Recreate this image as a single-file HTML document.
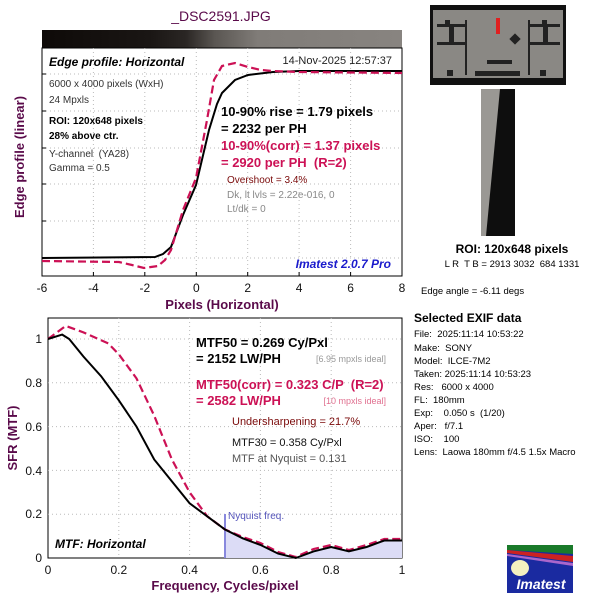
<!DOCTYPE html>
<html><head><meta charset="utf-8"><style>
body{margin:0;background:#fff;width:600px;height:600px;overflow:hidden}
svg{display:block;font-family:"Liberation Sans",Arial,sans-serif}
text{white-space:pre}
</style></head><body>
<svg width="600" height="600" viewBox="0 0 600 600">
<defs>
<linearGradient id="g" x1="0" x2="1" y1="0" y2="0">
<stop offset="0" stop-color="#0e0a08"/><stop offset="0.3" stop-color="#1a1614"/><stop offset="0.4" stop-color="#2a2624"/><stop offset="0.48" stop-color="#5a5652"/><stop offset="0.6" stop-color="#807c78"/><stop offset="1" stop-color="#888480"/>
</linearGradient>
</defs>
<text x="221" y="21" font-size="14" fill="#5a0a4a" text-anchor="middle">_DSC2591.JPG</text>
<rect x="42" y="30" width="360" height="18" fill="url(#g)"/>
<rect x="42" y="48" width="360" height="228" fill="#fff" stroke="#000"/>
<g stroke="#bbb" stroke-dasharray="1,3" stroke-width="1">
<line x1="93.4" y1="48" x2="93.4" y2="276"/><line x1="144.8" y1="48" x2="144.8" y2="276"/><line x1="196.3" y1="48" x2="196.3" y2="276"/><line x1="247.7" y1="48" x2="247.7" y2="276"/><line x1="299.1" y1="48" x2="299.1" y2="276"/><line x1="350.6" y1="48" x2="350.6" y2="276"/>
<line x1="42" y1="74" x2="402" y2="74"/><line x1="42" y1="111" x2="402" y2="111"/><line x1="42" y1="148" x2="402" y2="148"/><line x1="42" y1="184" x2="402" y2="184"/><line x1="42" y1="221" x2="402" y2="221"/><line x1="42" y1="258" x2="402" y2="258"/>
</g>
<g stroke="#000"><line x1="42" y1="74" x2="46" y2="74"/><line x1="42" y1="111" x2="46" y2="111"/><line x1="42" y1="148" x2="46" y2="148"/><line x1="42" y1="184" x2="46" y2="184"/><line x1="42" y1="221" x2="46" y2="221"/><line x1="42" y1="258" x2="46" y2="258"/>
<line x1="93.4" y1="276" x2="93.4" y2="272"/><line x1="144.8" y1="276" x2="144.8" y2="272"/><line x1="196.3" y1="276" x2="196.3" y2="272"/><line x1="247.7" y1="276" x2="247.7" y2="272"/><line x1="299.1" y1="276" x2="299.1" y2="272"/><line x1="350.6" y1="276" x2="350.6" y2="272"/></g>
<polyline fill="none" stroke="#000" stroke-width="2" points="42,258 155,257 163,254 171,247 183,215 196,185 209,130 217,104 222,93 235,80 248,75 273,72 299,71 402,71"/>
<polyline fill="none" stroke="#cc1155" stroke-width="2.2" stroke-dasharray="8,4" points="42,261 119,262 132,265 144,268 158,266 165,260 171,250 183,210 196,178 207,120 214,80 222,66 235,63 248,67 261,70 273,71 299,72 402,73"/>
<text x="49" y="66" font-size="12" font-weight="bold" font-style="italic">Edge profile: Horizontal</text>
<text x="392" y="64" font-size="11" fill="#222" text-anchor="end">14-Nov-2025 12:57:37</text>
<text x="49" y="87" font-size="10" fill="#333">6000 x 4000 pixels (WxH)</text>
<text x="49" y="103" font-size="10" fill="#333">24 Mpxls</text>
<text x="49" y="124" font-size="10" font-weight="bold">ROI: 120x648 pixels</text>
<text x="49" y="139" font-size="10" font-weight="bold">28% above ctr.</text>
<text x="49" y="157" font-size="10" fill="#333">Y-channel  (YA28)</text>
<text x="49" y="171" font-size="10" fill="#333">Gamma = 0.5</text>
<text x="221" y="116" font-size="13" font-weight="bold">10-90% rise = 1.79 pixels</text>
<text x="221" y="133" font-size="13" font-weight="bold">= 2232 per PH</text>
<text x="221" y="150" font-size="13" font-weight="bold" fill="#cc1155">10-90%(corr) = 1.37 pixels</text>
<text x="221" y="167" font-size="13" font-weight="bold" fill="#cc1155">= 2920 per PH  (R=2)</text>
<text x="227" y="183" font-size="10" fill="#7a0a0a">Overshoot = 3.4%</text>
<text x="227" y="198" font-size="10" fill="#888">Dk, lt lvls = 2.22e-016, 0</text>
<text x="227" y="212" font-size="10" fill="#888">Lt/dk = 0</text>
<text x="391" y="268" font-size="12" font-weight="bold" font-style="italic" fill="#1a1acc" text-anchor="end">Imatest 2.0.7 Pro</text>
<g font-size="12" text-anchor="middle" fill="#111">
<text x="42" y="292">-6</text><text x="93.4" y="292">-4</text><text x="144.8" y="292">-2</text><text x="196.3" y="292">0</text><text x="247.7" y="292">2</text><text x="299.1" y="292">4</text><text x="350.6" y="292">6</text><text x="402" y="292">8</text></g>
<text x="222" y="309" font-size="13" font-weight="bold" fill="#5a0a4a" text-anchor="middle">Pixels (Horizontal)</text>
<text transform="translate(24,157) rotate(-90)" font-size="13" font-weight="bold" fill="#5a0a4a" text-anchor="middle">Edge profile (linear)</text>
<rect x="48" y="318" width="354" height="240" fill="#fff" stroke="#000"/>
<g stroke="#bbb" stroke-dasharray="1,3"><line x1="118.8" y1="318" x2="118.8" y2="558"/><line x1="189.6" y1="318" x2="189.6" y2="558"/><line x1="260.4" y1="318" x2="260.4" y2="558"/><line x1="331.2" y1="318" x2="331.2" y2="558"/>
<line x1="48" y1="339" x2="402" y2="339"/><line x1="48" y1="382.8" x2="402" y2="382.8"/><line x1="48" y1="426.6" x2="402" y2="426.6"/><line x1="48" y1="470.4" x2="402" y2="470.4"/><line x1="48" y1="514.2" x2="402" y2="514.2"/></g>
<polygon fill="#dcdcf6" points="225,529.5 242.7,538.3 260.4,544.9 278.1,553.6 295.8,558 313.5,551.4 331.2,547 348.9,551.4 366.6,547 384.3,540.5 402,540.5 402,558 225,558"/>
<line x1="225" y1="514" x2="225" y2="558" stroke="#8888dd" stroke-width="2"/>
<text x="228" y="519" font-size="10" fill="#5555bb">Nyquist freq.</text>
<polyline fill="none" stroke="#cc1155" stroke-width="2.2" stroke-dasharray="8,4" points="48,339 65.7,325.9 83.4,332.4 108.2,343.4 118.8,354.3 136.5,378.4 154.2,415.7 171.9,459.5 189.6,492.3 207.3,516.4 225,529.5 242.7,537 260.4,543 278.1,552 295.8,557 313.5,549 331.2,545 348.9,550 366.6,545 384.3,539 402,539"/>
<polyline fill="none" stroke="#000" stroke-width="2" points="48,339 62.2,334.6 69.2,339 83.4,356.5 101.1,376.2 118.8,400.3 136.5,426.6 154.2,459.5 171.9,481.4 189.6,503.3 207.3,516.4 225,529.5 242.7,538.3 260.4,544.9 278.1,553.6 295.8,558 313.5,551.4 331.2,547 348.9,551.4 366.6,547 384.3,540.5 402,540.5"/>
<text x="196" y="347" font-size="13" font-weight="bold">MTF50 = 0.269 Cy/Pxl</text>
<text x="196" y="363" font-size="13" font-weight="bold">= 2152 LW/PH</text>
<text x="386" y="362" font-size="9" fill="#999" text-anchor="end">[6.95 mpxls ideal]</text>
<text x="196" y="389" font-size="13" font-weight="bold" fill="#cc1155">MTF50(corr) = 0.323 C/P  (R=2)</text>
<text x="196" y="405" font-size="13" font-weight="bold" fill="#cc1155">= 2582 LW/PH</text>
<text x="386" y="404" font-size="9" fill="#e07090" text-anchor="end">[10 mpxls ideal]</text>
<text x="232" y="425" font-size="11" fill="#7a0a0a">Undersharpening = 21.7%</text>
<text x="232" y="446" font-size="11" fill="#111">MTF30 = 0.358 Cy/Pxl</text>
<text x="232" y="462" font-size="11" fill="#555">MTF at Nyquist = 0.131</text>
<text x="55" y="548" font-size="12" font-weight="bold" font-style="italic">MTF: Horizontal</text>
<g font-size="12" fill="#111"><text x="42" y="343" text-anchor="end">1</text><text x="42" y="387" text-anchor="end">0.8</text><text x="42" y="431" text-anchor="end">0.6</text><text x="42" y="475" text-anchor="end">0.4</text><text x="42" y="518" text-anchor="end">0.2</text><text x="42" y="562" text-anchor="end">0</text>
<text x="48" y="574" text-anchor="middle">0</text><text x="118.8" y="574" text-anchor="middle">0.2</text><text x="189.6" y="574" text-anchor="middle">0.4</text><text x="260.4" y="574" text-anchor="middle">0.6</text><text x="331.2" y="574" text-anchor="middle">0.8</text><text x="402" y="574" text-anchor="middle">1</text></g>
<text x="225" y="590" font-size="13" font-weight="bold" fill="#5a0a4a" text-anchor="middle">Frequency, Cycles/pixel</text>
<text transform="translate(17,438) rotate(-90)" font-size="13" font-weight="bold" fill="#5a0a4a" text-anchor="middle">SFR (MTF)</text>
<rect x="430" y="5" width="136" height="80" fill="#111"/>
<rect x="433" y="10" width="130" height="68" fill="#8a8884"/>
<g fill="#222"><rect x="437" y="24" width="30" height="3"/><rect x="449" y="24" width="5" height="20"/><rect x="437" y="42" width="30" height="3"/><rect x="530" y="24" width="30" height="3"/><rect x="543" y="24" width="5" height="20"/><rect x="530" y="42" width="30" height="3"/><rect x="487" y="60" width="25" height="4"/><rect x="475" y="71" width="45" height="5"/><rect x="465" y="20" width="2" height="55"/><rect x="528" y="20" width="2" height="55"/><rect x="447" y="70" width="6" height="6"/><rect x="445" y="20" width="5" height="5"/><rect x="540" y="70" width="6" height="6"/><rect x="542" y="20" width="5" height="5"/></g>
<rect x="496" y="18" width="4" height="16" fill="#e02020"/>
<rect x="511" y="35" width="8" height="8" fill="#222" transform="rotate(45 515 39)"/>
<rect x="481" y="89" width="34" height="147" fill="#0e0e0e"/>
<polygon points="481,89 500,89 486,236 481,236" fill="#9a9894"/>
<text x="512" y="253" font-size="12" font-weight="bold" text-anchor="middle">ROI: 120x648 pixels</text>
<text x="512" y="267" font-size="9.5" text-anchor="middle">L R  T B = 2913 3032  684 1331</text>
<text x="421" y="294" font-size="9.5">Edge angle = -6.11 degs</text>
<text x="414" y="322" font-size="12" font-weight="bold">Selected EXIF data</text>
<g font-size="9.5"><text x="414" y="337">File:  2025:11:14 10:53:22</text><text x="414" y="351">Make:  SONY</text><text x="414" y="364">Model:  ILCE-7M2</text><text x="414" y="377">Taken: 2025:11:14 10:53:23</text><text x="414" y="390">Res:   6000 x 4000</text><text x="414" y="403">FL:  180mm</text><text x="414" y="416">Exp:    0.050 s  (1/20)</text><text x="414" y="429">Aper:   f/7.1</text><text x="414" y="442">ISO:    100</text><text x="414" y="455">Lens:  Laowa 180mm f/4.5 1.5x Macro</text></g>
<rect x="507" y="545" width="66" height="48" fill="#1a2aa0"/>
<polygon points="507,545 573,545 573,554 507,550" fill="#1a7a2a"/>
<polygon points="507,550 573,556 573,562 507,553" fill="#cc2222"/>
<polygon points="507,554 573,563 573,566 507,556" fill="#aa66cc"/>
<ellipse cx="520" cy="568" rx="9" ry="8" fill="#f4f0c0"/>
<text x="541" y="589" font-size="14" font-weight="bold" font-style="italic" fill="#fff" text-anchor="middle">Imatest</text>
</svg>
</body></html>
